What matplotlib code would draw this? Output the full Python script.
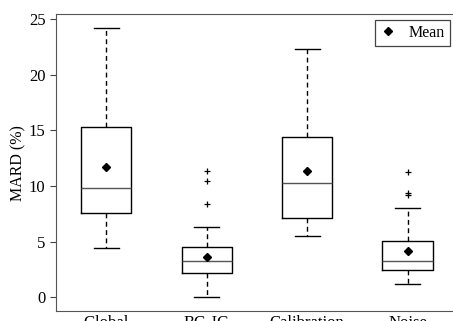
import matplotlib
matplotlib.use("Agg")
import matplotlib.pyplot as plt
from matplotlib.lines import Line2D

plt.rcParams['font.family'] = ['Liberation Serif', 'DejaVu Serif']

labels = ['Global', 'BG-IG', 'Calibration', 'Noise']
whislo = [4.4, 0.0, 5.5, 1.2]
q1 = [7.55, 2.15, 7.1, 2.45]
med = [9.8, 3.25, 10.25, 3.25]
q3 = [15.3, 4.5, 14.4, 5.05]
whishi = [24.2, 6.3, 22.3, 8.0]
means = [11.7, 3.6, 11.35, 4.15]
fliers = [[], [8.35, 10.45, 11.35], [], [9.2, 9.35, 11.25]]

stats = []
for i in range(len(labels)):
    stats.append(dict(label=labels[i], whislo=whislo[i], q1=q1[i], med=med[i],
                      q3=q3[i], whishi=whishi[i], mean=means[i], fliers=fliers[i]))

fig = plt.figure(figsize=(4.53, 3.21), dpi=100)
ax = fig.add_axes([0.1236, 0.031, 0.887, 0.925])

ax.bxp(stats, widths=0.5, showmeans=True,
       boxprops=dict(color='black', linewidth=1.0),
       medianprops=dict(color='#555555', linewidth=1.0),
       whiskerprops=dict(color='black', linewidth=1.0, linestyle=(0, (3.5, 2.5))),
       capprops=dict(color='black', linewidth=1.0),
       flierprops=dict(marker='+', markersize=4, markeredgecolor='black', markeredgewidth=0.9),
       meanprops=dict(marker='D', markersize=4.5, markerfacecolor='black', markeredgecolor='black'))

ax.set_xlim(0.5, 4.5)
ax.set_ylim(-1.25, 25.45)
ax.set_yticks([0, 5, 10, 15, 20, 25])
ax.tick_params(axis='both', labelsize=12, direction='out', length=4, color='#444444')
ax.tick_params(axis='x', length=0, pad=3)
ax.set_ylabel('MARD (%)', fontsize=11.5, labelpad=2)
for sp in ax.spines.values():
    sp.set_color('#555555')

handle = Line2D([], [], marker='D', color='black', linestyle='none', markersize=4.5)
leg = ax.legend([handle], ['Mean'], loc='upper right', bbox_to_anchor=(0.98, 0.98),
                borderaxespad=0, fontsize=11.5, fancybox=False, edgecolor='#444444',
                framealpha=1, handlelength=1.0, handletextpad=0.8, borderpad=0.3)
leg.get_frame().set_linewidth(0.9)

fig.savefig('out.png', dpi=100)
